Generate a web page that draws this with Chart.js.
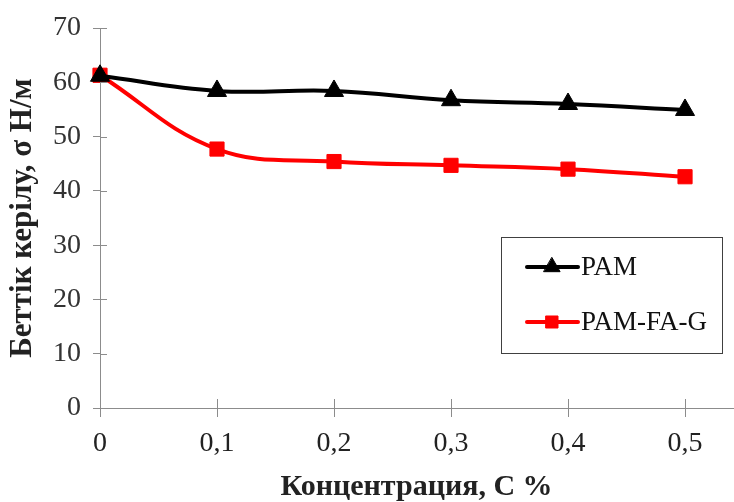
<!DOCTYPE html>
<html>
<head>
<meta charset="utf-8">
<script src="https://cdn.jsdelivr.net/npm/chart.js@4/dist/chart.umd.min.js"></script>
<style>
  html, body { margin: 0; padding: 0; background: #fff; }
  #wrap { width: 734px; height: 502px; position: relative; }
</style>
</head>
<body>
<div id="wrap"><canvas id="c" width="734" height="502"></canvas></div>
<script>
// Data
const concentrations = [0, 0.1, 0.2, 0.3, 0.4, 0.5];
const xTickValues = [0, 0.1, 0.2, 0.3, 0.4, 0.5];
const yTickValues = [0, 10, 20, 30, 40, 50, 60, 70];
const pamValues = [61.2, 58.4, 58.4, 56.7, 56.0, 54.9];
const pamFagValues = [61.3, 47.7, 45.4, 44.7, 44.0, 42.6];
const seriesNames = ['PAM', 'PAM-FA-G'];
const xTitle = 'Концентрация, С %';
const yTitle = 'Беттік керілу, σ Н/м';

const toPoints = (vals) => concentrations.map((x, i) => ({ x: x, y: vals[i] }));
const fmtComma = (v) => String(Math.round(v * 10) / 10).replace('.', ',');

const axisColor = '#8c8c8c';
const serif = "'Liberation Serif', 'DejaVu Serif', serif";

// Inner tick marks (ticks crossing the axes)
const crossTicks = {
  id: 'crossTicks',
  afterDatasetsDraw(chart) {
    const ctx = chart.ctx;
    const xs = chart.scales.x, ys = chart.scales.y;
    ctx.save();
    ctx.strokeStyle = axisColor;
    ctx.lineWidth = 1;
    ctx.beginPath();
    xTickValues.forEach(v => {
      const px = Math.round(xs.getPixelForValue(v)) + 0.5;
      ctx.moveTo(px, ys.bottom);
      ctx.lineTo(px, ys.bottom - 9);
    });
    yTickValues.forEach(v => {
      const py = Math.round(ys.getPixelForValue(v)) + 0.5;
      ctx.moveTo(xs.left, py);
      ctx.lineTo(xs.left + 7, py);
    });
    ctx.stroke();
    ctx.restore();
  }
};

// Boxed legend inside the plot area
const boxLegend = {
  id: 'boxLegend',
  afterDraw(chart) {
    const ctx = chart.ctx;
    const box = { x: 501.5, y: 237.5, w: 221, h: 116 };
    ctx.save();
    ctx.fillStyle = '#fff';
    ctx.fillRect(box.x, box.y, box.w, box.h);
    ctx.strokeStyle = '#404040';
    ctx.lineWidth = 1;
    ctx.strokeRect(box.x, box.y, box.w, box.h);
    const rows = [267, 322];
    chart.data.datasets.forEach((ds, i) => {
      const y = rows[i];
      ctx.strokeStyle = ds.borderColor;
      ctx.lineWidth = 4;
      ctx.lineCap = 'round';
      ctx.beginPath();
      ctx.moveTo(527, y);
      ctx.lineTo(578, y);
      ctx.stroke();
      ctx.fillStyle = ds.pointBackgroundColor;
      ctx.strokeStyle = ds.pointBorderColor;
      ctx.lineWidth = 1;
      Chart.helpers.drawPoint(ctx, {
        pointStyle: ds.pointStyle,
        radius: ds.pointRadius * 0.85,
        rotation: 0,
        borderWidth: 1
      }, 552, y);
      ctx.fillStyle = '#111';
      ctx.font = "27px " + serif;
      ctx.textBaseline = 'middle';
      ctx.textAlign = 'left';
      ctx.fillText(ds.label, 581, y + 1);
    });
    ctx.restore();
  }
};

new Chart(document.getElementById('c'), {
  type: 'line',
  data: {
    datasets: [
      {
        label: seriesNames[0],
        data: toPoints(pamValues),
        borderColor: '#000000',
        backgroundColor: '#000000',
        pointBackgroundColor: '#000000',
        pointBorderColor: '#000000',
        borderWidth: 4,
        pointStyle: 'triangle',
        pointRadius: 11,
        pointBorderWidth: 1,
        tension: 0.4,
        cubicInterpolationMode: 'default'
      },
      {
        label: seriesNames[1],
        data: toPoints(pamFagValues),
        borderColor: '#ff0000',
        backgroundColor: '#ff0000',
        pointBackgroundColor: '#ff0000',
        pointBorderColor: '#ff0000',
        borderWidth: 4,
        pointStyle: 'rect',
        pointRadius: 10,
        pointBorderWidth: 1,
        tension: 0.4,
        cubicInterpolationMode: 'default'
      }
    ]
  },
  options: {
    responsive: false,
    animation: false,
    clip: false,
    layout: { autoPadding: false, padding: { top: 28, right: 1, left: 0, bottom: 0 } },
    plugins: {
      legend: { display: false },
      tooltip: { enabled: false }
    },
    scales: {
      x: {
        type: 'linear',
        min: 0,
        max: 0.541,
        afterBuildTicks: (s) => { s.ticks = xTickValues.map(v => ({ value: v })); },
        afterFit: (s) => { s.height = 94; },
        grid: { drawOnChartArea: false, drawTicks: true, tickLength: 9, color: axisColor, lineWidth: 1 },
        border: { color: axisColor, width: 1 },
        ticks: {
          autoSkip: false,
          maxRotation: 0,
          padding: 13,
          color: '#222',
          font: { family: serif, size: 28, lineHeight: 1 },
          callback: (v) => fmtComma(v)
        },
        title: {
          display: true,
          text: xTitle,
          color: '#222',
          font: { family: serif, size: 30, weight: 'bold', lineHeight: 1 },
          padding: { top: 0, bottom: 0 }
        }
      },
      y: {
        type: 'linear',
        min: 0,
        max: 70,
        afterBuildTicks: (s) => { s.ticks = yTickValues.map(v => ({ value: v })); },
        afterFit: (s) => { s.width = 100; },
        grid: { drawOnChartArea: false, drawTicks: true, tickLength: 7, color: axisColor, lineWidth: 1 },
        border: { color: axisColor, width: 1 },
        ticks: {
          padding: 12,
          color: '#333',
          font: { family: serif, size: 28, lineHeight: 1 }
        },
        title: {
          display: true,
          text: yTitle,
          color: '#222',
          font: { family: serif, size: 31, weight: 'bold', lineHeight: 1 },
          padding: { top: 7, bottom: 0 }
        }
      }
    }
  },
  plugins: [crossTicks, boxLegend]
});
</script>
</body>
</html>
